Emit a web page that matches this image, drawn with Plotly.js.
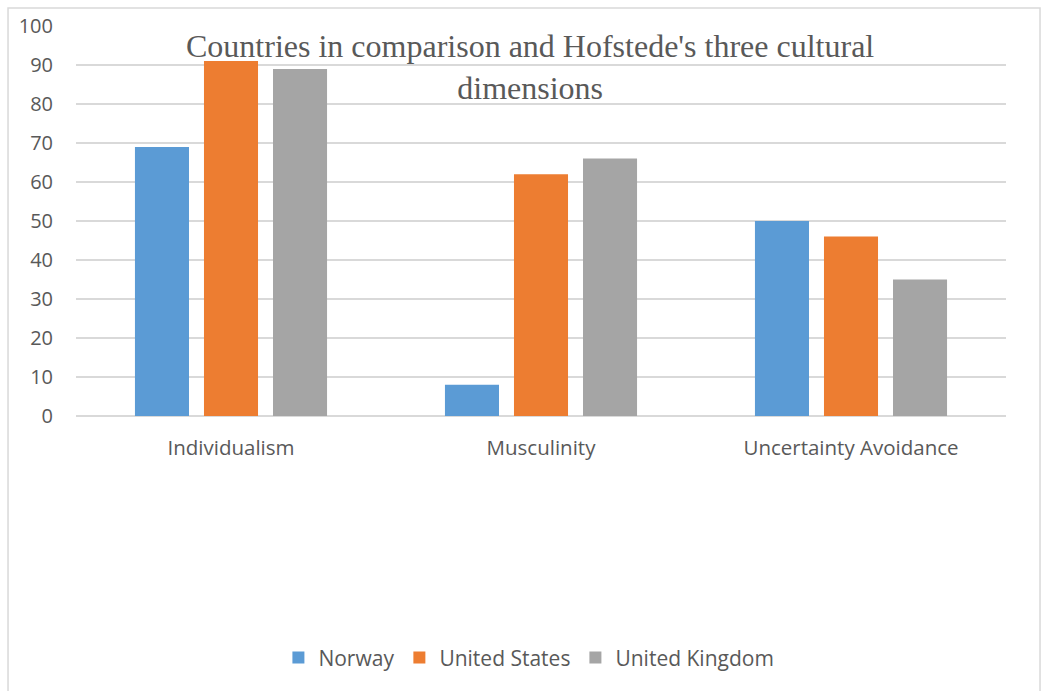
<!DOCTYPE html>
<html>
<head>
<meta charset="utf-8">
<script src="https://cdn.plot.ly/plotly-3.0.1.min.js"></script>
<style>html,body{margin:0;padding:0;background:#fff;}#chart{width:1041px;height:691px;}</style>
</head>
<body>
<div id="chart"></div>
<script>
const categories = ["Individualism", "Musculinity", "Uncertainty Avoidance"];
const seriesNames = ["Norway", "United States", "United Kingdom"];
const norway = [69, 8, 50];
const unitedStates = [91, 62, 46];
const unitedKingdom = [89, 66, 35];
const colors = ["#5b9bd5", "#ed7d31", "#a5a5a5"];
const yTicks = [0, 10, 20, 30, 40, 50, 60, 70, 80, 90, 100];

const values = [norway, unitedStates, unitedKingdom];
const traces = values.map((v, i) => ({
  type: "bar",
  name: seriesNames[i],
  x: categories,
  y: v,
  marker: {color: colors[i]},
  hoverinfo: "none"
}));

const layout = {
  width: 1041, height: 691,
  margin: {l: 76, r: 35, t: 26, b: 275},
  paper_bgcolor: "#fff", plot_bgcolor: "#fff",
  barmode: "group",
  bargap: 0.332,
  bargroupgap: 0.217,
  font: {family: "Liberation Sans, Arial, sans-serif", color: "#595959"},
  xaxis: {
    showgrid: false, zeroline: false, showline: false,
    ticks: "", tickfont: {size: 20.5, color: "#595959", family: "Open Sans, Liberation Sans, sans-serif"},
    ticklabelstandoff: 17
  },
  yaxis: {
    range: [0, 100], tickvals: yTicks, ticktext: yTicks.map(String),
    showgrid: true, gridcolor: "#d9d9d9", gridwidth: 1.5,
    zeroline: true, zerolinecolor: "#d9d9d9", zerolinewidth: 1.5,
    showline: false, ticks: "",
    tickfont: {size: 20, color: "#595959", family: "Open Sans, Liberation Sans, sans-serif"},
    ticklabelstandoff: 22
  },
  showlegend: true,
  legend: {
    orientation: "h", x: 0.487, xanchor: "center", y: -0.62, yanchor: "middle",
    font: {size: 21, color: "#595959", family: "Open Sans, Liberation Sans, sans-serif"},
    itemwidth: 30, traceorder: "normal"
  },
  annotations: [{
    xref: "paper", yref: "paper", x: 0.488, y: 0.894, xanchor: "center", yanchor: "middle",
    text: "Countries in comparison and Hofstede's three cultural<br>dimensions",
    showarrow: false,
    font: {family: "Liberation Serif, Times New Roman, serif", size: 32, color: "#595959"}
  }],
  shapes: [{
    type: "rect", xref: "paper", yref: "paper",
    x0: -0.0731, x1: 1.0366, y0: -0.8, y1: 1.046,
    line: {color: "#d9d9d9", width: 1.5}, fillcolor: "rgba(0,0,0,0)", layer: "below"
  }]
};

Plotly.newPlot("chart", traces, layout, {displayModeBar: false, staticPlot: true});
</script>
</body>
</html>
